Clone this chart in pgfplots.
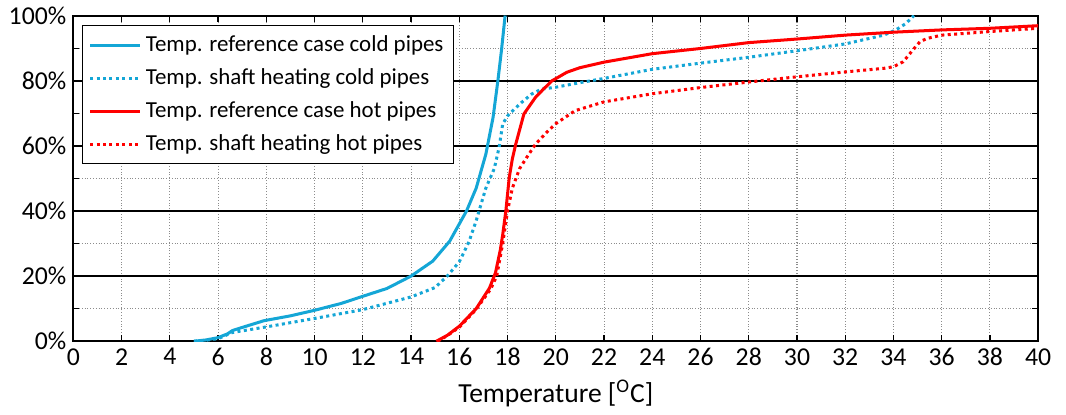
\documentclass[border={1pt 0pt 4pt 0pt}]{standalone}
\usepackage{pgfplots}
\pgfplotsset{compat=1.18}
\usepackage{fontspec}
\setmainfont{Carlito}

\definecolor{coldblue}{RGB}{20,166,214}
\definecolor{hotred}{RGB}{255,0,0}

\begin{document}
\begin{tikzpicture}
\begin{axis}[
    scale only axis,
    width=480pt, height=162pt,
    xmin=0, xmax=40,
    ymin=0, ymax=100,
    xtick={0,2,...,40},
    ytick={0,20,...,100},
    minor ytick={10,30,50,70,90},
    yticklabel={\pgfmathprintnumber{\tick}\%},
    /pgf/number format/assume math mode=true,
    tick label style={font=\fontsize{12.8}{15}\selectfont},
    label style={font=\fontsize{13.7}{16}\selectfont},
    xlabel={Temperature [\textsuperscript{O}C]},
    tick align=inside,
    major tick length=3pt,
    minor tick length=3pt,
    tick style={black, line width=0.6pt},
    axis line style={line width=1pt},
    xmajorgrids=true, ymajorgrids=true, yminorgrids=true,
    major x grid style={gray!90, densely dotted, line width=0.5pt},
    major y grid style={black, line width=0.8pt},
    minor y grid style={gray!90, densely dotted, line width=0.5pt},
    legend cell align=left,
    legend style={at={(0.009,0.971)}, anchor=north west, draw=black,
        line width=0.6pt, font=\fontsize{11.4}{13}\selectfont,
        row sep=3pt, inner sep=3pt},
    legend image code/.code={\draw[#1] (0pt,0pt) -- (25pt,0pt);},
]

\addplot[coldblue, line width=1.5pt] coordinates {
(5.0,0)(5.5,0.4)(6.0,1.1)(6.4,2.3)(6.6,3.3)(7.2,4.7)(7.9,6.3)(9.0,7.8)(10,9.5)
(11.1,11.6)(12,13.8)(13,16.2)(14,20)(14.9,24.6)(15.6,30.7)(16.3,40)(16.7,47)
(17.1,57.4)(17.4,68.7)(17.6,80)(17.75,89.4)(17.9,100)
};
\addlegendentry{Temp. reference case cold pipes}

\addplot[coldblue, line width=1.5pt, dash pattern=on 1.5pt off 1.7pt] coordinates {
(5.0,0)(5.5,0.3)(6.0,0.8)(6.6,2.7)(8,4.4)(10,7.0)(12,9.7)(14,13.6)(15,16.5)
(15.5,20)(16.0,24.4)(16.4,30.5)(16.7,37)(17.1,47)(17.45,53)(17.65,59.5)(17.8,66.7)
(18.0,69.2)(18.5,72.8)(19.0,75.9)(19.4,77.4)(20,78)(21,79.4)(22,80.7)(24,83.5)
(26,85.4)(28,87.2)(30,89.2)(32,91.3)(33.6,94)(34.1,95.6)(34.5,97.5)(34.85,100)
};
\addlegendentry{Temp. shaft heating cold pipes}

\addplot[hotred, line width=1.5pt] coordinates {
(15.05,0)(15.5,1.8)(16,4.6)(16.7,10)(17.25,16.3)(17.5,21)(17.7,28)(17.8,32.7)
(17.93,40)(18.07,50.2)(18.2,56)(18.34,60.5)(18.68,69.8)(19.16,74.9)(19.5,77.5)
(19.85,80)(20.46,82.6)(21,84)(22,85.7)(24,88.3)(26,89.9)(28,91.7)(30,92.8)
(32,94)(34,94.9)(36,95.6)(38,96.1)(40,96.9)
};
\addlegendentry{Temp. reference case hot pipes}

\addplot[hotred, line width=1.5pt, dash pattern=on 1.5pt off 1.7pt] coordinates {
(15.1,0)(15.5,1.7)(16,4.3)(16.7,9.8)(17.3,16)(17.55,20)(17.8,30)(18.0,40)
(18.2,47)(18.5,53)(18.8,56.5)(19.16,60.5)(19.6,64)(20,66.8)(20.8,70.8)(22,73.5)
(24,76)(26,77.9)(28,79.6)(30,81.2)(32,82.7)(33.6,83.8)(34,84.3)(34.4,85.8)
(34.8,89.4)(35.1,92)(35.4,93)(36,94)(38,95.1)(40,96.1)
};
\addlegendentry{Temp. shaft heating hot pipes}

\end{axis}
\end{tikzpicture}
\end{document}
